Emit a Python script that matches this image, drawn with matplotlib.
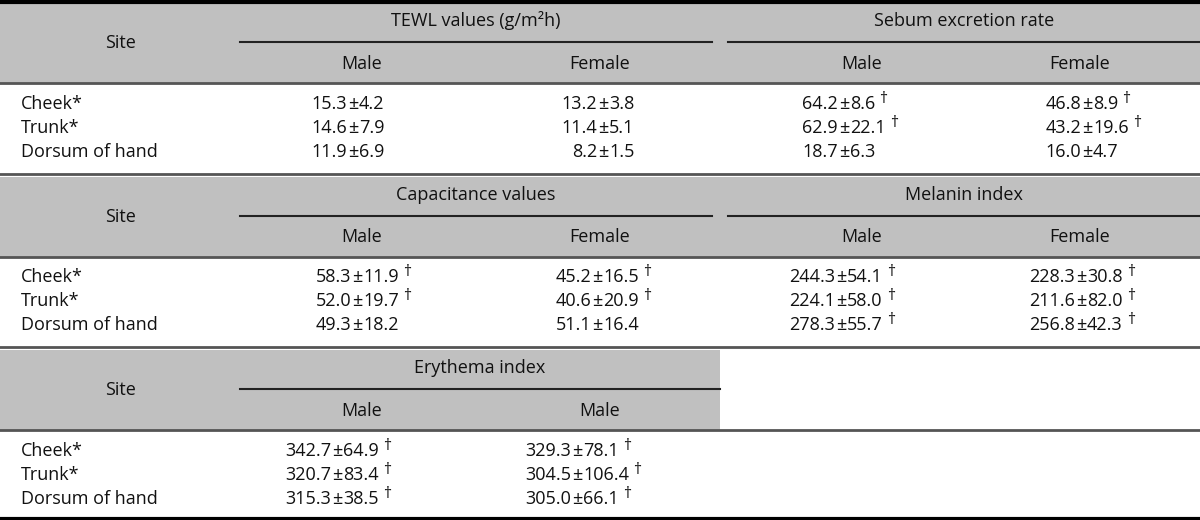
import matplotlib
matplotlib.use("Agg")
import matplotlib.pyplot as plt
from matplotlib.patches import Rectangle

plt.rcParams['font.family'] = ['Open Sans', 'DejaVu Sans']

sites = ["Cheek*", "Trunk*", "Dorsum of hand"]

# block 1
tewl_title = "TEWL values (g/m²h)"
tewl_male = [(15.3, 4.2), (14.6, 7.9), (11.9, 6.9)]
tewl_female = [(13.2, 3.8), (11.4, 5.1), (8.2, 1.5)]
tewl_male_sig = [False, False, False]
tewl_female_sig = [False, False, False]

sebum_title = "Sebum excretion rate"
sebum_male = [(64.2, 8.6), (62.9, 22.1), (18.7, 6.3)]
sebum_female = [(46.8, 8.9), (43.2, 19.6), (16.0, 4.7)]
sebum_male_sig = [True, True, False]
sebum_female_sig = [True, True, False]

# block 2
cap_title = "Capacitance values"
cap_male = [(58.3, 11.9), (52.0, 19.7), (49.3, 18.2)]
cap_female = [(45.2, 16.5), (40.6, 20.9), (51.1, 16.4)]
cap_male_sig = [True, True, False]
cap_female_sig = [True, True, False]

mel_title = "Melanin index"
mel_male = [(244.3, 54.1), (224.1, 58.0), (278.3, 55.7)]
mel_female = [(228.3, 30.8), (211.6, 82.0), (256.8, 42.3)]
mel_male_sig = [True, True, True]
mel_female_sig = [True, True, True]

# block 3
ery_title = "Erythema index"
ery_col1 = [(342.7, 64.9), (320.7, 83.4), (315.3, 38.5)]
ery_col2 = [(329.3, 78.1), (304.5, 106.4), (305.0, 66.1)]
ery_col1_sig = [True, True, True]
ery_col2_sig = [True, True, True]

sub_two = ["Male", "Female"]
sub_ery = ["Male", "Male"]

FS = 13
GREY = "#c0c0c0"
INK = "#111111"

fig = plt.figure(figsize=(12, 5.2), dpi=100)
ax = fig.add_axes([0, 0, 1, 1])
ax.set_xlim(0, 1200)
ax.set_ylim(520, 0)
ax.axis("off")


def cell(x_pm, y, val, sig):
    m, sd = val
    ax.text(x_pm - 1, y, f"{m:.1f}", ha="right", va="center", fontsize=FS, color=INK)
    ax.text(x_pm + 5, y, "±", ha="center", va="center", fontsize=FS, color=INK)
    t = ax.text(x_pm + 11, y, f"{sd:.1f}", ha="left", va="center", fontsize=FS, color=INK)
    if sig:
        ax.annotate("†", xy=(1, 1), xycoords=t, xytext=(3, 3), textcoords="offset points",
                    ha="left", va="top", fontsize=11.5, color=INK)


def block(top, groups, grey_right):
    # groups: list of (title, x0, x1, [(sub, xc, x_pm, vals, sigs), ...])
    ax.add_patch(Rectangle((0, top + 3), grey_right, 80, color=GREY, lw=0, zorder=0))
    ax.text(120, top + 43, "Site", ha="center", va="center", fontsize=FS, color=INK)
    for title, x0, x1, cols in groups:
        ax.text((x0 + x1) / 2, top + 21, title, ha="center", va="center", fontsize=FS, color=INK)
        ax.plot([x0, x1], [top + 42, top + 42], color="#222", lw=1.5)
        for sub, xc, x_pm, vals, sigs in cols:
            ax.text(xc, top + 64, sub, ha="center", va="center", fontsize=FS, color=INK)
            for i in range(3):
                cell(x_pm, top + 104 + 24 * i, vals[i], sigs[i])
    ax.plot([0, 1200], [top + 83, top + 83], color="#555", lw=2)
    for i, s in enumerate(sites):
        ax.text(21, top + 104 + 24 * i, s, ha="left", va="center", fontsize=FS, color=INK)


block(0, [
    (tewl_title, 240, 712, [(sub_two[0], 362, 348, tewl_male, tewl_male_sig),
                            (sub_two[1], 600, 598, tewl_female, tewl_female_sig)]),
    (sebum_title, 728, 1200, [(sub_two[0], 862, 839, sebum_male, sebum_male_sig),
                              (sub_two[1], 1080, 1082, sebum_female, sebum_female_sig)]),
], 1200)

block(173.5, [
    (cap_title, 240, 712, [(sub_two[0], 362, 352, cap_male, cap_male_sig),
                           (sub_two[1], 600, 592, cap_female, cap_female_sig)]),
    (mel_title, 728, 1200, [(sub_two[0], 862, 836, mel_male, mel_male_sig),
                            (sub_two[1], 1080, 1076, mel_female, mel_female_sig)]),
], 1200)

block(347, [
    (ery_title, 240, 720, [(sub_ery[0], 362, 332, ery_col1, ery_col1_sig),
                           (sub_ery[1], 600, 572, ery_col2, ery_col2_sig)]),
], 720)

# block separators and outer rules
ax.plot([0, 1200], [1.5, 1.5], color="#000", lw=3)
ax.plot([0, 1200], [173.5, 173.5], color="#555", lw=2)
ax.plot([0, 1200], [346.5, 346.5], color="#555", lw=2)
ax.plot([0, 1200], [518.5, 518.5], color="#000", lw=3)

fig.savefig("out.png", dpi=100)
